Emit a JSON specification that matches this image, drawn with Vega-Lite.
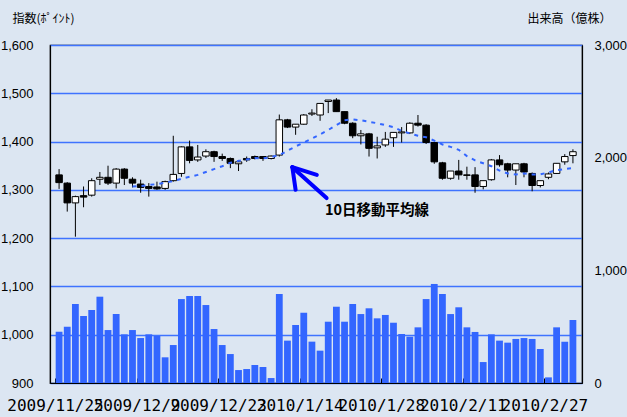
{
"$schema": "https://vega.github.io/schema/vega-lite/v6.json",
"autosize": "none",
"width": 532,
"height": 338,
"padding": {"left": 50, "top": 45, "right": 45, "bottom": 34},
"background": "#dce6f2",
"config": {"view": {"stroke": "#000000", "strokeWidth": 1.2, "fill": "#dce6f2"}, "font": "Noto Sans CJK JP"},
"datasets": {
"k": [
{"i":0,"o":1331,"h":1343,"l":1302,"c":1315,"v":455},
{"i":1,"o":1314,"h":1316,"l":1255,"c":1273,"v":500},
{"i":2,"o":1273,"h":1288,"l":1203,"c":1286,"v":701},
{"i":3,"o":1288,"h":1307,"l":1264,"c":1285,"v":595},
{"i":4,"o":1289,"h":1324,"l":1286,"c":1319,"v":648},
{"i":5,"o":1322,"h":1337,"l":1310,"c":1326,"v":766},
{"i":6,"o":1326,"h":1350,"l":1310,"c":1314,"v":470},
{"i":7,"o":1314,"h":1345,"l":1303,"c":1343,"v":612},
{"i":8,"o":1343,"h":1345,"l":1310,"c":1324,"v":432},
{"i":9,"o":1322,"h":1326,"l":1305,"c":1314,"v":470},
{"i":10,"o":1312,"h":1321,"l":1294,"c":1305,"v":399},
{"i":11,"o":1307,"h":1314,"l":1286,"c":1303,"v":432},
{"i":12,"o":1306,"h":1317,"l":1300,"c":1302,"v":417},
{"i":13,"o":1303,"h":1319,"l":1300,"c":1317,"v":228},
{"i":14,"o":1319,"h":1412,"l":1317,"c":1332,"v":337},
{"i":15,"o":1334,"h":1390,"l":1327,"c":1389,"v":745},
{"i":16,"o":1389,"h":1402,"l":1355,"c":1361,"v":772},
{"i":17,"o":1362,"h":1393,"l":1358,"c":1368,"v":772},
{"i":18,"o":1370,"h":1384,"l":1366,"c":1379,"v":692},
{"i":19,"o":1379,"h":1381,"l":1358,"c":1369,"v":479},
{"i":20,"o":1369,"h":1375,"l":1360,"c":1365,"v":337},
{"i":21,"o":1365,"h":1367,"l":1345,"c":1355,"v":257},
{"i":22,"o":1354,"h":1362,"l":1339,"c":1358,"v":115},
{"i":23,"o":1365,"h":1369,"l":1358,"c":1362,"v":124},
{"i":24,"o":1369,"h":1371,"l":1363,"c":1365,"v":160},
{"i":25,"o":1369,"h":1370,"l":1360,"c":1365,"v":142},
{"i":26,"o":1365,"h":1371,"l":1363,"c":1370,"v":44},
{"i":27,"o":1372,"h":1456,"l":1369,"c":1445,"v":790},
{"i":28,"o":1445,"h":1447,"l":1428,"c":1430,"v":376},
{"i":29,"o":1430,"h":1436,"l":1414,"c":1436,"v":515},
{"i":30,"o":1436,"h":1457,"l":1435,"c":1455,"v":624},
{"i":31,"o":1457,"h":1467,"l":1453,"c":1459,"v":367},
{"i":32,"o":1455,"h":1479,"l":1443,"c":1479,"v":287},
{"i":33,"o":1483,"h":1486,"l":1459,"c":1486,"v":544},
{"i":34,"o":1486,"h":1490,"l":1462,"c":1462,"v":677},
{"i":35,"o":1462,"h":1462,"l":1436,"c":1438,"v":544},
{"i":36,"o":1438,"h":1440,"l":1407,"c":1412,"v":701},
{"i":37,"o":1412,"h":1424,"l":1394,"c":1416,"v":612},
{"i":38,"o":1416,"h":1418,"l":1369,"c":1386,"v":663},
{"i":39,"o":1387,"h":1410,"l":1365,"c":1391,"v":574},
{"i":40,"o":1393,"h":1420,"l":1389,"c":1405,"v":604},
{"i":41,"o":1408,"h":1419,"l":1389,"c":1419,"v":535},
{"i":42,"o":1418,"h":1430,"l":1398,"c":1420,"v":435},
{"i":43,"o":1418,"h":1440,"l":1416,"c":1438,"v":411},
{"i":44,"o":1438,"h":1455,"l":1431,"c":1434,"v":494},
{"i":45,"o":1434,"h":1436,"l":1395,"c":1398,"v":745},
{"i":46,"o":1398,"h":1398,"l":1354,"c":1358,"v":879},
{"i":47,"o":1356,"h":1358,"l":1321,"c":1324,"v":790},
{"i":48,"o":1324,"h":1339,"l":1321,"c":1339,"v":612},
{"i":49,"o":1339,"h":1362,"l":1321,"c":1331,"v":672},
{"i":50,"o":1331,"h":1348,"l":1321,"c":1330,"v":494},
{"i":51,"o":1331,"h":1347,"l":1294,"c":1307,"v":453},
{"i":52,"o":1307,"h":1319,"l":1301,"c":1319,"v":186},
{"i":53,"o":1321,"h":1364,"l":1319,"c":1362,"v":432},
{"i":54,"o":1362,"h":1372,"l":1348,"c":1352,"v":376},
{"i":55,"o":1354,"h":1356,"l":1326,"c":1341,"v":358},
{"i":56,"o":1341,"h":1354,"l":1310,"c":1354,"v":391},
{"i":57,"o":1354,"h":1356,"l":1326,"c":1337,"v":399},
{"i":58,"o":1334,"h":1336,"l":1297,"c":1309,"v":391},
{"i":59,"o":1309,"h":1319,"l":1305,"c":1319,"v":302},
{"i":60,"o":1326,"h":1336,"l":1322,"c":1333,"v":50},
{"i":61,"o":1334,"h":1355,"l":1333,"c":1355,"v":494},
{"i":62,"o":1358,"h":1374,"l":1352,"c":1369,"v":367},
{"i":63,"o":1371,"h":1384,"l":1355,"c":1379,"v":559}
],
"ma": [
{"i":9,"m":1307},{"i":10,"m":1308},{"i":11,"m":1310},{"i":12,"m":1312},{"i":13,"m":1315},
{"i":14,"m":1318},{"i":15,"m":1323},{"i":16,"m":1327},{"i":17,"m":1331},{"i":18,"m":1337},
{"i":19,"m":1343},{"i":20,"m":1349},{"i":21,"m":1356},{"i":22,"m":1360},{"i":23,"m":1363},
{"i":24,"m":1366},{"i":25,"m":1365},{"i":26,"m":1368},{"i":27,"m":1372},{"i":28,"m":1381},
{"i":29,"m":1390},{"i":30,"m":1398},{"i":31,"m":1406},{"i":32,"m":1415},{"i":33,"m":1424},
{"i":34,"m":1434},{"i":35,"m":1444},{"i":36,"m":1446},{"i":37,"m":1444},{"i":38,"m":1441},
{"i":39,"m":1438},{"i":40,"m":1434},{"i":41,"m":1430},{"i":42,"m":1422},{"i":43,"m":1417},
{"i":44,"m":1412},{"i":45,"m":1409},{"i":46,"m":1402},{"i":47,"m":1394},{"i":48,"m":1389},
{"i":49,"m":1383},{"i":50,"m":1370},{"i":51,"m":1361},{"i":52,"m":1355},{"i":53,"m":1349},
{"i":54,"m":1340},{"i":55,"m":1334},{"i":56,"m":1332},{"i":57,"m":1334},{"i":58,"m":1332},
{"i":59,"m":1332},{"i":60,"m":1336},{"i":61,"m":1341},{"i":62,"m":1343},{"i":63,"m":1345}
],
"arrow": [
{"x":32.8,"y":1283,"x2":28.6,"y2":1347},
{"x":29.0,"y":1300,"x2":28.6,"y2":1347},
{"x":31.6,"y":1331,"x2":28.6,"y2":1347}
],
"note": [{"x":32.6,"y":1257,"t":"10日移動平均線"}]
},
"layer": [
{
"data": {"name": "k"},
"mark": {"type": "bar", "color": "#3366ff", "size": 6.8},
"encoding": {
"x": {"field": "i", "type": "quantitative", "scale": {"domain": [-0.5, 63.5], "nice": false, "zero": false},
"axis": {"values": [-0.5, 9.5, 19.5, 29.5, 39.5, 49.5, 59.5],
"labelExpr": "['2009/11/25','2009/12/9','2009/12/23','2010/1/14','2010/1/28','2010/2/11','2010/2/27'][round((datum.value+0.5)/10)]",
"title": null, "grid": false, "domainColor": "#000000", "domainWidth": 1.2, "tickColor": "#000000", "tickSize": -5,
"labelFont": "DejaVu Sans Mono", "labelFontSize": 16, "labelColor": "#000000", "labelPadding": 19, "labelDx": 6, "labelOverlap": false, "labelFlush": false, "labelBound": false}},
"y": {"field": "v", "type": "quantitative", "scale": {"domain": [0, 3000], "nice": false},
"axis": {"orient": "right", "values": [0, 1000, 2000, 3000], "format": ",.0f", "grid": false, "title": "出来高（億株）",
"titleAngle": 0, "titleX": -55, "titleY": -27, "titleAlign": "left", "titleBaseline": "middle", "titleFontSize": 12, "titleFontWeight": "normal", "titleColor": "#000000",
"domainColor": "#000000", "domainWidth": 1.2, "ticks": false, "labelPadding": 12, "labelFontSize": 13, "labelColor": "#000000", "labelFont": "Liberation Sans"}}
}
},
{
"layer": [
{
"data": {"name": "k"},
"mark": {"type": "rule", "color": "#000000", "strokeWidth": 1},
"encoding": {
"x": {"field": "i", "type": "quantitative"},
"y": {"field": "l", "type": "quantitative", "scale": {"domain": [900, 1600], "nice": false, "zero": false},
"axis": {"values": [900, 1000, 1100, 1200, 1300, 1400, 1500, 1600], "format": ",.0f", "grid": true, "gridColor": "#3f73ff", "gridWidth": 1.3,
"title": "指数(ﾎﾟｲﾝﾄ)", "titleAngle": 0, "titleX": -38, "titleY": -27, "titleAlign": "left", "titleBaseline": "middle", "titleFontSize": 12, "titleFontWeight": "normal", "titleColor": "#000000",
"domainColor": "#000000", "domainWidth": 1.2, "ticks": false, "labelPadding": 17, "labelFontSize": 13, "labelColor": "#000000", "labelFont": "Liberation Sans"}},
"y2": {"field": "h"}
}
},
{
"data": {"name": "k"},
"mark": {"type": "bar", "size": 6.5, "stroke": "#000000", "strokeWidth": 1},
"encoding": {
"x": {"field": "i", "type": "quantitative"},
"y": {"field": "o", "type": "quantitative"},
"y2": {"field": "c"},
"fill": {"condition": {"test": "datum.c >= datum.o", "value": "#ffffff"}, "value": "#000000"}
}
},
{
"data": {"name": "ma"},
"mark": {"type": "line", "color": "#3366ff", "strokeWidth": 2, "strokeDash": [4, 5]},
"encoding": {
"x": {"field": "i", "type": "quantitative"},
"y": {"field": "m", "type": "quantitative"}
}
},
{
"data": {"name": "arrow"},
"mark": {"type": "rule", "color": "#0000ff", "strokeWidth": 4, "strokeCap": "round"},
"encoding": {
"x": {"field": "x", "type": "quantitative"},
"x2": {"field": "x2"},
"y": {"field": "y", "type": "quantitative"},
"y2": {"field": "y2"}
}
},
{
"data": {"name": "note"},
"mark": {"type": "text", "align": "left", "baseline": "middle", "fontSize": 14.5, "fontWeight": "bold", "color": "#000000", "font": "Noto Sans CJK JP"},
"encoding": {
"x": {"field": "x", "type": "quantitative"},
"y": {"field": "y", "type": "quantitative"},
"text": {"field": "t"}
}
}
]
}
],
"resolve": {"scale": {"y": "independent"}}
}
